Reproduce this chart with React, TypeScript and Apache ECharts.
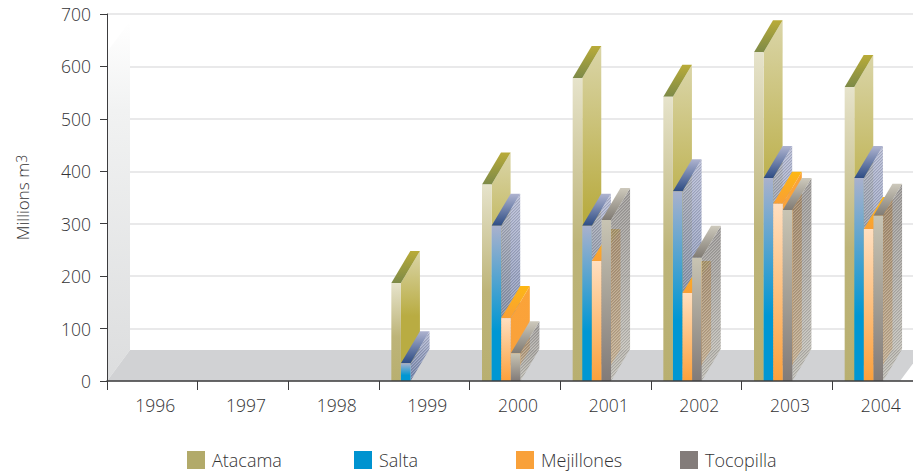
import React, { useEffect, useRef } from "react";
import * as echarts from "echarts";

const years = ["1996", "1997", "1998", "1999", "2000", "2001", "2002", "2003", "2004"];
const atacama = [null, null, null, 187, 375, 578, 542, 627, 561];
const salta = [null, null, null, 34, 296, 296, 362, 387, 387];
const mejillones = [null, null, null, null, 120, 229, 168, 338, 290];
const tocopilla = [null, null, null, null, 53, 307, 235, 326, 315];
const FONT = "'Open Sans', sans-serif";
const TXT = "#333335";
const W = 9.6, OFFSET = -33, DX = 19, DY = -32;

const grad = (stops: [number, string][]) =>
  new echarts.graphic.LinearGradient(0, 0, 0, 1, stops.map(([offset, color]) => ({ offset, color })));

const makeHatch = () => {
  const c = document.createElement("canvas");
  c.width = 3;
  c.height = 3;
  const ctx = c.getContext("2d")!;
  ctx.fillStyle = "rgba(255,255,255,0.2)";
  for (let i = 0; i < 3; i++) ctx.fillRect(i, 2 - i, 1, 1);
  ctx.fillStyle = "rgba(60,60,70,0.16)";
  for (let i = 0; i < 3; i++) ctx.fillRect(i, (3 - i) % 3, 1, 1);
  return c;
};

const looks = [
  {
    front: [[0, "#e6e3cb"], [0.55, "#bdb478"], [1, "#b8af70"]],
    side: [[0, "#dad5a8"], [0.5, "#b9ac42"], [1, "#b9ac42"]],
    top: [[0, "#b9ab38"], [1, "#7d8a48"]],
  },
  {
    front: [[0, "#a9b1cd"], [0.68, "#0097d3"], [1, "#0097d3"]],
    side: [[0, "rgba(172,178,206,0.86)"], [1, "rgba(104,122,165,0.92)"]],
    top: [[0, "#aeb3cf"], [1, "#2d4c84"]],
    hatch: true,
  },
  {
    front: [[0, "#ffdfc0"], [1, "#fba03b"]],
    side: [[0, "#fba338"], [1, "#f9a13c"]],
    top: [[0, "#fdb714"], [1, "#f99f35"]],
  },
  {
    front: [[0, "#c8c4b3"], [1, "#817b79"]],
    side: [[0, "rgba(125,121,118,0.74)"], [1, "rgba(190,187,176,0.8)"]],
    top: [[0, "#cdc9bc"], [1, "#807b74"]],
    hatch: true,
  },
] as any[];

const barSeries = (name: string, values: (number | null)[], idx: number, color: string, hatch: any) => ({
  type: "custom",
  name,
  z: 3,
  clip: false,
  silent: true,
  itemStyle: { color },
  encode: { x: 0, y: 1 },
  data: values.map((v, i) => [i, v]).filter((d) => d[1] !== null),
  renderItem: (_: any, api: any) => {
    const [cx, y0] = api.coord([api.value(0), 0]);
    const [, yt] = api.coord([api.value(0), api.value(1)]);
    const x = cx + OFFSET + idx * W;
    const look = looks[idx];
    const sidePts = [[x + W, yt], [x + W + DX, yt + DY], [x + W + DX, y0 + DY], [x + W, y0]];
    const children: any[] = [
      { type: "polygon", shape: { points: sidePts }, style: { fill: grad(look.side) } },
    ];
    if (look.hatch) {
      children.push({
        type: "polygon",
        shape: { points: sidePts },
        style: { fill: { image: hatch, repeat: "repeat" } },
      });
    }
    children.push(
      { type: "polygon", shape: { points: [[x, yt], [x + DX, yt + DY], [x + W + DX, yt + DY], [x + W, yt]] }, style: { fill: grad(look.top) } },
      { type: "rect", shape: { x, y: yt, width: W, height: y0 - yt }, style: { fill: grad(look.front) } },
    );
    return { type: "group", children };
  },
});

const roomSeries = {
  type: "custom",
  name: "room",
  z: 1,
  clip: false,
  silent: true,
  data: [[0, 0]],
  renderItem: (params: any) => {
    const g = params.coordSys;
    const b = g.y + g.height, r = g.x + g.width, l = g.x;
    return {
      type: "group",
      children: [
        { type: "polygon", shape: { points: [[l, b], [l + 23, b - 31], [l + 23, g.y + 7], [l, g.y + 38]] }, style: { fill: grad([[0, "#ffffff"], [0.25, "#f1f2f2"], [1, "#dcddde"]]) } },
        { type: "polygon", shape: { points: [[l, b], [l + 23, b - 31], [r, b - 31], [r - 23, b]] }, style: { fill: "#d1d2d4" } },
      ],
    };
  },
};

const legendAt = (name: string, left: number, color: string) => ({
  left,
  top: 451,
  padding: 0,
  itemWidth: 18,
  itemHeight: 18,
  selectedMode: false,
  icon: "rect",
  data: [{ name, itemStyle: { color } }],
  textStyle: { fontFamily: FONT, fontSize: 18, fontWeight: 300, color: TXT, padding: [0, 0, 0, 2] },
});

export default function App() {
  const ref = useRef<HTMLDivElement>(null);
  useEffect(() => {
    const chart = echarts.init(ref.current!, undefined, { renderer: "svg" });
    const hatch = makeHatch();
    chart.setOption({
      animation: false,
      backgroundColor: "#ffffff",
      legend: [
        legendAt("Atacama", 187, "#b2aa6a"),
        legendAt("Salta", 354, "#0093d0"),
        legendAt("Mejillones", 516, "#f9a13a"),
        legendAt("Tocopilla", 680, "#837c7a"),
      ],
      grid: { left: 107, top: 14, width: 816, height: 367, outerBoundsMode: "none" },
      xAxis: {
        type: "category",
        data: years,
        z: 10,
        axisLine: { lineStyle: { color: "#3c3c3e", width: 1.5 } },
        axisTick: { show: true, length: 9, lineStyle: { color: "#3c3c3e", width: 1 } },
        axisLabel: { fontFamily: FONT, fontSize: 17.5, fontWeight: 300, color: TXT, margin: 15, padding: [0, 0, 0, 6] },
      },
      yAxis: [
        {
          type: "value",
          min: 0,
          max: 700,
          interval: 100,
          z: 10,
          name: "{a|Millions m}{s|3}",
          nameLocation: "middle",
          nameRotate: 90,
          nameGap: 76,
          nameTextStyle: {
            rich: {
              a: { fontFamily: FONT, fontSize: 17, fontWeight: 300, color: TXT },
              s: { fontFamily: FONT, fontSize: 14, fontWeight: 300, color: TXT, verticalAlign: "top" },
            },
          },
          axisLine: { show: true, lineStyle: { color: "#3c3c3e", width: 1 } },
          axisTick: { show: true, length: 7, lineStyle: { color: "#3c3c3e", width: 1 } },
          axisLabel: { fontFamily: FONT, fontSize: 17.5, fontWeight: 300, color: TXT, margin: 16, padding: [2, 0, 0, 0] },
          splitLine: { show: false },
        },
        {
          type: "value",
          min: 0,
          max: 700,
          interval: 100,
          z: 0,
          position: "left",
          axisLine: { show: false },
          axisTick: { show: false },
          axisLabel: { show: false },
          splitLine: { show: true, lineStyle: { color: "#e2e2e3", width: 1.5 } },
        },
      ],
      series: [
        roomSeries,
        barSeries("Atacama", atacama, 0, "#b2aa6a", hatch),
        barSeries("Salta", salta, 1, "#0093d0", hatch),
        barSeries("Mejillones", mejillones, 2, "#f9a13a", hatch),
        barSeries("Tocopilla", tocopilla, 3, "#837c7a", hatch),
      ],
    });
    return () => chart.dispose();
  }, []);
  return <div ref={ref} style={{ position: "absolute", left: 0, top: 0, width: 913, height: 474 }} />;
}
